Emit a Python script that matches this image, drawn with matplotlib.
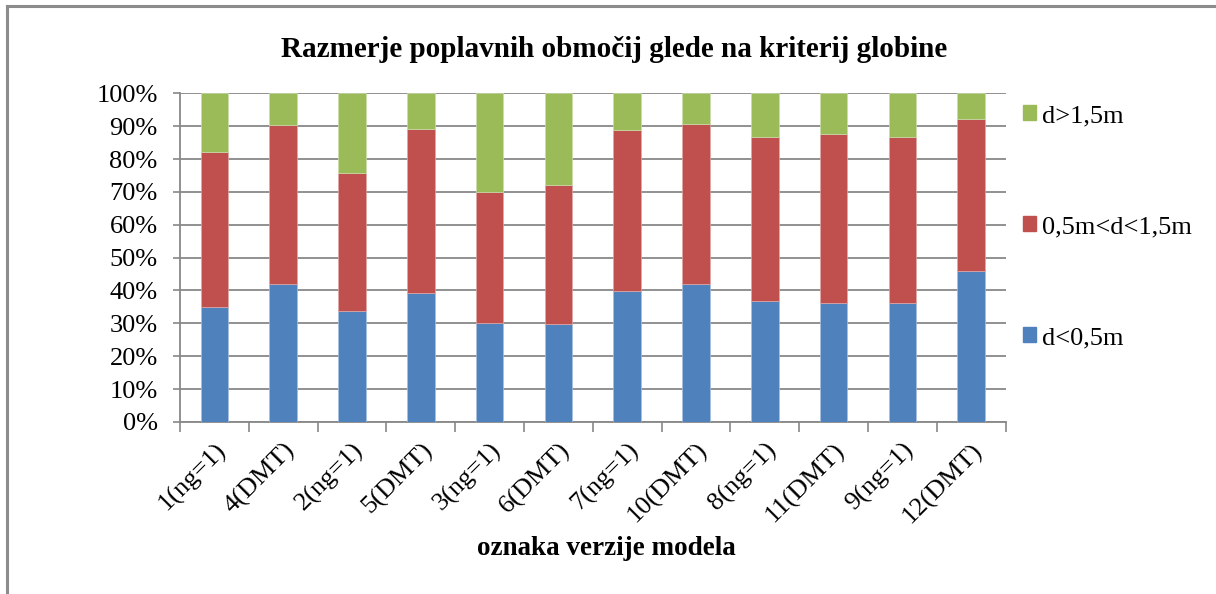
import matplotlib.pyplot as plt
from matplotlib.patches import Patch
from matplotlib.lines import Line2D
import numpy as np

plt.rcParams['font.family'] = ['Liberation Serif', 'DejaVu Serif']

# shares of flooded area per model version (%)
versions = ['1(ng=1)', '4(DMT)', '2(ng=1)', '5(DMT)', '3(ng=1)', '6(DMT)',
            '7(ng=1)', '10(DMT)', '8(ng=1)', '11(DMT)', '9(ng=1)', '12(DMT)']
shallow = [35.0, 42.1, 33.7, 39.3, 30.2, 29.7, 39.8, 41.9, 36.8, 36.1, 36.3, 45.8]
medium = [47.2, 48.3, 42.1, 49.8, 39.9, 42.5, 49.1, 48.6, 49.9, 51.6, 50.3, 46.4]
deep = [17.8, 9.6, 24.2, 10.9, 29.9, 27.8, 11.1, 9.5, 13.3, 12.3, 13.4, 7.8]

blue, red, green = '#4F81BD', '#C0504D', '#9BBB59'
grid_c = '#888888'
fs = 19

fig = plt.figure(figsize=(12.16, 5.94), dpi=100)
ax = fig.add_axes([0.148, 0.2896, 0.679, 0.5534])

x = np.arange(len(versions))
w = 0.4
bottom2 = np.array(shallow) + np.array(medium)
ax.bar(x, shallow, w, color=blue, edgecolor='#a7c0de', linewidth=0.5, zorder=3)
ax.bar(x, medium, w, bottom=shallow, color=red, edgecolor='#dfa8a6', linewidth=0.5, zorder=3)
ax.bar(x, deep, w, bottom=bottom2, color=green, edgecolor='#cddcac', linewidth=0.5, zorder=3)

ax.set_xlim(-0.5, len(versions) - 0.5)
ax.set_ylim(0, 100)
ax.set_yticks(np.arange(0, 101, 10))
ax.set_yticklabels([f'{v}%' for v in range(0, 101, 10)], fontsize=fs)
ax.yaxis.grid(True, color=grid_c, linewidth=1.3, zorder=0)
ax.set_axisbelow(True)

# category ticks sit between the bars
ax.set_xticks(np.arange(-0.5, len(versions), 1))
ax.set_xticklabels([])
ax.set_xticks(x, minor=True)
ax.set_xticklabels(versions, minor=True, rotation=45, ha='right',
                   rotation_mode='anchor', fontsize=fs)
ax.tick_params(axis='x', which='major', length=7, color=grid_c, width=1.2)
ax.tick_params(axis='x', which='minor', length=0, pad=12)
ax.tick_params(axis='y', length=5, color=grid_c, width=1.2, pad=11)

for s in ['top', 'right']:
    ax.spines[s].set_visible(False)
for s in ['left', 'bottom']:
    ax.spines[s].set_color(grid_c)
    ax.spines[s].set_linewidth(1.3)

fig.text(0.505, 1 - 57 / 594, 'Razmerje poplavnih območij glede na kriterij globine',
         ha='center', va='baseline', fontsize=21, fontweight='bold')
fig.text(0.499, 0.077, 'oznaka verzije modela', ha='center', va='center',
         fontsize=19.5, fontweight='bold')

handles = [Patch(color=green), Patch(color=red), Patch(color=blue)]
labels = ['d>1,5m', '0,5m<d<1,5m', 'd<0,5m']
ax.legend(handles, labels, loc='center left', bbox_to_anchor=(1.008, 0.593),
          frameon=False, fontsize=fs, handlelength=0.5, handleheight=0.5,
          handletextpad=0.23, labelspacing=3.37, borderaxespad=0)

# outer chart frame (top and left edges visible)
fig.add_artist(Line2D([0.006, 0.006], [0, 0.99], color='#8c8c8c', lw=2.2))
fig.add_artist(Line2D([0.006, 1.0], [0.99, 0.99], color='#8c8c8c', lw=2.2))

fig.savefig('out.png', dpi=100)
